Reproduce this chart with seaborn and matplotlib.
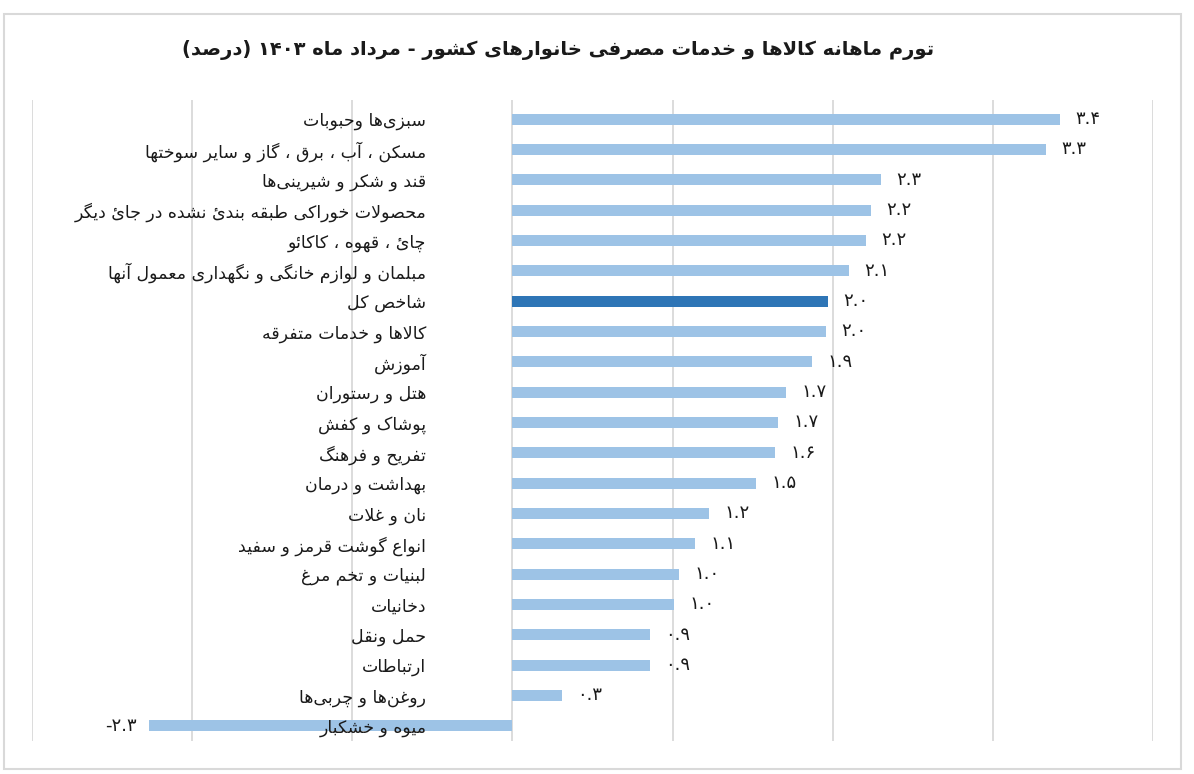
import numpy as np
import pandas as pd
import matplotlib
matplotlib.use('Agg')
import matplotlib.pyplot as plt
import seaborn as sns
from matplotlib.patches import Rectangle

# ---------------- data ----------------
categories = [
    'سبزی‌ها وحبوبات',
    'مسکن ، آب ، برق ، گاز و سایر سوختها',
    'قند و شکر و شیرینی‌ها',
    'محصولات خوراکی طبقه بندئ نشده در جائ دیگر',
    'چائ ، قهوه ، کاکائو',
    'مبلمان و لوازم خانگی و نگهداری معمول آنها',
    'شاخص کل',
    'کالاها و خدمات متفرقه',
    'آموزش',
    'هتل و رستوران',
    'پوشاک و کفش',
    'تفریح و فرهنگ',
    'بهداشت و درمان',
    'نان و غلات',
    'انواع گوشت قرمز و سفید',
    'لبنیات و تخم مرغ',
    'دخانیات',
    'حمل ونقل',
    'ارتباطات',
    'روغن‌ها و چربی‌ها',
    'میوه و خشکبار',
]
values = [3.42, 3.33, 2.30, 2.24, 2.21, 2.10, 1.97, 1.96, 1.87, 1.71, 1.66,
          1.64, 1.52, 1.23, 1.14, 1.04, 1.01, 0.86, 0.86, 0.31, -2.27]
highlight = 'شاخص کل'
title = 'تورم ماهانه کالاها و خدمات مصرفی خانوارهای کشور - مرداد ماه ۱۴۰۳ (درصد)'
x_ticks = [-3, -2, -1, 0, 1, 2, 3, 4]

light_color = '#9DC3E6'
dark_color = '#2E75B6'
grid_color = '#D9D9D9'

# ---------------- minimal Arabic/Persian shaping + bidi ----------------
FORMS = {
    '\u0622': ('\uFE81', '\uFE82'), '\u0623': ('\uFE83', '\uFE84'),
    '\u0624': ('\uFE85', '\uFE86'), '\u0625': ('\uFE87', '\uFE88'),
    '\u0626': ('\uFE89', '\uFE8A', '\uFE8B', '\uFE8C'),
    '\u0627': ('\uFE8D', '\uFE8E'),
    '\u0628': ('\uFE8F', '\uFE90', '\uFE91', '\uFE92'),
    '\u0629': ('\uFE93', '\uFE94'),
    '\u062A': ('\uFE95', '\uFE96', '\uFE97', '\uFE98'),
    '\u062B': ('\uFE99', '\uFE9A', '\uFE9B', '\uFE9C'),
    '\u062C': ('\uFE9D', '\uFE9E', '\uFE9F', '\uFEA0'),
    '\u062D': ('\uFEA1', '\uFEA2', '\uFEA3', '\uFEA4'),
    '\u062E': ('\uFEA5', '\uFEA6', '\uFEA7', '\uFEA8'),
    '\u062F': ('\uFEA9', '\uFEAA'), '\u0630': ('\uFEAB', '\uFEAC'),
    '\u0631': ('\uFEAD', '\uFEAE'), '\u0632': ('\uFEAF', '\uFEB0'),
    '\u0633': ('\uFEB1', '\uFEB2', '\uFEB3', '\uFEB4'),
    '\u0634': ('\uFEB5', '\uFEB6', '\uFEB7', '\uFEB8'),
    '\u0635': ('\uFEB9', '\uFEBA', '\uFEBB', '\uFEBC'),
    '\u0636': ('\uFEBD', '\uFEBE', '\uFEBF', '\uFEC0'),
    '\u0637': ('\uFEC1', '\uFEC2', '\uFEC3', '\uFEC4'),
    '\u0638': ('\uFEC5', '\uFEC6', '\uFEC7', '\uFEC8'),
    '\u0639': ('\uFEC9', '\uFECA', '\uFECB', '\uFECC'),
    '\u063A': ('\uFECD', '\uFECE', '\uFECF', '\uFED0'),
    '\u0641': ('\uFED1', '\uFED2', '\uFED3', '\uFED4'),
    '\u0642': ('\uFED5', '\uFED6', '\uFED7', '\uFED8'),
    '\u0643': ('\uFED9', '\uFEDA', '\uFEDB', '\uFEDC'),
    '\u0644': ('\uFEDD', '\uFEDE', '\uFEDF', '\uFEE0'),
    '\u0645': ('\uFEE1', '\uFEE2', '\uFEE3', '\uFEE4'),
    '\u0646': ('\uFEE5', '\uFEE6', '\uFEE7', '\uFEE8'),
    '\u0647': ('\uFEE9', '\uFEEA', '\uFEEB', '\uFEEC'),
    '\u0648': ('\uFEED', '\uFEEE'),
    '\u0649': ('\uFEEF', '\uFEF0'),
    '\u064A': ('\uFEF1', '\uFEF2', '\uFEF3', '\uFEF4'),
    '\u067E': ('\uFB56', '\uFB57', '\uFB58', '\uFB59'),
    '\u0686': ('\uFB7A', '\uFB7B', '\uFB7C', '\uFB7D'),
    '\u0698': ('\uFB8A', '\uFB8B'),
    '\u06A9': ('\uFB8E', '\uFB8F', '\uFB90', '\uFB91'),
    '\u06AF': ('\uFB92', '\uFB93', '\uFB94', '\uFB95'),
    '\u06CC': ('\uFBFC', '\uFBFD', '\uFBFE', '\uFBFF'),
}
LAM_ALEF = {'\u0622': ('\uFEF5', '\uFEF6'), '\u0623': ('\uFEF7', '\uFEF8'),
            '\u0625': ('\uFEF9', '\uFEFA'), '\u0627': ('\uFEFB', '\uFEFC')}


def shape(text):
    chars = list(text)
    n = len(chars)
    out = []
    i = 0
    while i < n:
        c = chars[i]
        prev = chars[i - 1] if i > 0 else None
        connects_prev = (prev is not None and prev in FORMS and len(FORMS[prev]) == 4
                         and c in FORMS)
        if c == '\u0644' and i + 1 < n and chars[i + 1] in LAM_ALEF:
            iso, fin = LAM_ALEF[chars[i + 1]]
            out.append(fin if connects_prev else iso)
            i += 2
            continue
        if c in FORMS:
            f = FORMS[c]
            nxt = chars[i + 1] if i + 1 < n else None
            connects_next = len(f) == 4 and nxt is not None and nxt in FORMS
            if connects_prev and connects_next:
                g = f[3]
            elif connects_prev:
                g = f[1]
            elif connects_next:
                g = f[2]
            else:
                g = f[0]
            out.append(g)
        elif c == '\u200c':
            pass
        else:
            out.append(c)
        i += 1
    return ''.join(out)


DIGITS = set('0123456789۰۱۲۳۴۵۶۷۸۹')
MIRROR = {'(': ')', ')': '('}


def visual(text):
    s = shape(text)
    runs = []
    for ch in s:
        isd = ch in DIGITS
        if runs and runs[-1][0] == isd:
            runs[-1][1].append(ch)
        else:
            runs.append([isd, [ch]])
    parts = []
    for isd, chs in reversed(runs):
        if isd:
            parts.append(''.join(chs))
        else:
            parts.append(''.join(MIRROR.get(c, c) for c in reversed(chs)))
    return ''.join(parts)


FA_DIGITS = str.maketrans('0123456789', '۰۱۲۳۴۵۶۷۸۹')


def fa_num(v):
    return f'{v:.1f}'.translate(FA_DIGITS)


# ---------------- plot ----------------
sns.set_style('white')
plt.rcParams['font.family'] = ['DejaVu Sans']

W, H = 1194, 774
fig = plt.figure(figsize=(W / 100, H / 100), dpi=100)
fig.patch.set_facecolor('white')
ax = fig.add_axes([32 / W, 33 / H, (1153 - 32) / W, (741 - 100) / H])

df = pd.DataFrame({'category': categories, 'value': values})
palette = {c: (dark_color if c == highlight else light_color) for c in categories}
sns.barplot(data=df, x='value', y='category', hue='category', palette=palette,
            order=categories, hue_order=categories, orient='h', width=0.36,
            legend=False, saturation=1, linewidth=0, zorder=1, ax=ax)

ax.set_axisbelow(False)
ax.set_xlim(x_ticks[0], x_ticks[-1])
ax.set_ylim(len(categories) - 0.5, -0.63)
ax.set_xticks(x_ticks)
for xv in ax.get_xticks():
    ax.axvline(xv, color=grid_color, lw=1.3, zorder=0)
ax.grid(False)
ax.tick_params(axis='x', length=0, labelbottom=False)
ax.set_xlabel('')
ax.set_ylabel('')
for s in ax.spines.values():
    s.set_visible(False)
ax.spines['left'].set_position(('data', 0))
ax.set_yticks(range(len(categories)))
ax.set_yticklabels([visual(c) for c in categories], fontsize=12.5, color='#1a1a1a')
ax.tick_params(axis='y', length=0, pad=62)
for lab in ax.get_yticklabels():
    lab.set_zorder(5)

for i, v in enumerate(values):
    ax.annotate(fa_num(v), xy=(v, i), xytext=(11 if v >= 0 else -9, 0),
                textcoords='offset points', ha='left' if v >= 0 else 'right',
                va='center', fontsize=13, color='#1a1a1a', zorder=5)

fig.text(558 / W, 1 - 50 / H, visual(title), ha='center', va='center',
         fontsize=14, fontweight='bold', color='#1a1a1a')

fig.add_artist(Rectangle((4 / W, 5 / H), (1181 - 4) / W, (769 - 14) / H,
                         transform=fig.transFigure, fill=False,
                         edgecolor=grid_color, lw=1.5))

fig.savefig('out.png', dpi=100)
